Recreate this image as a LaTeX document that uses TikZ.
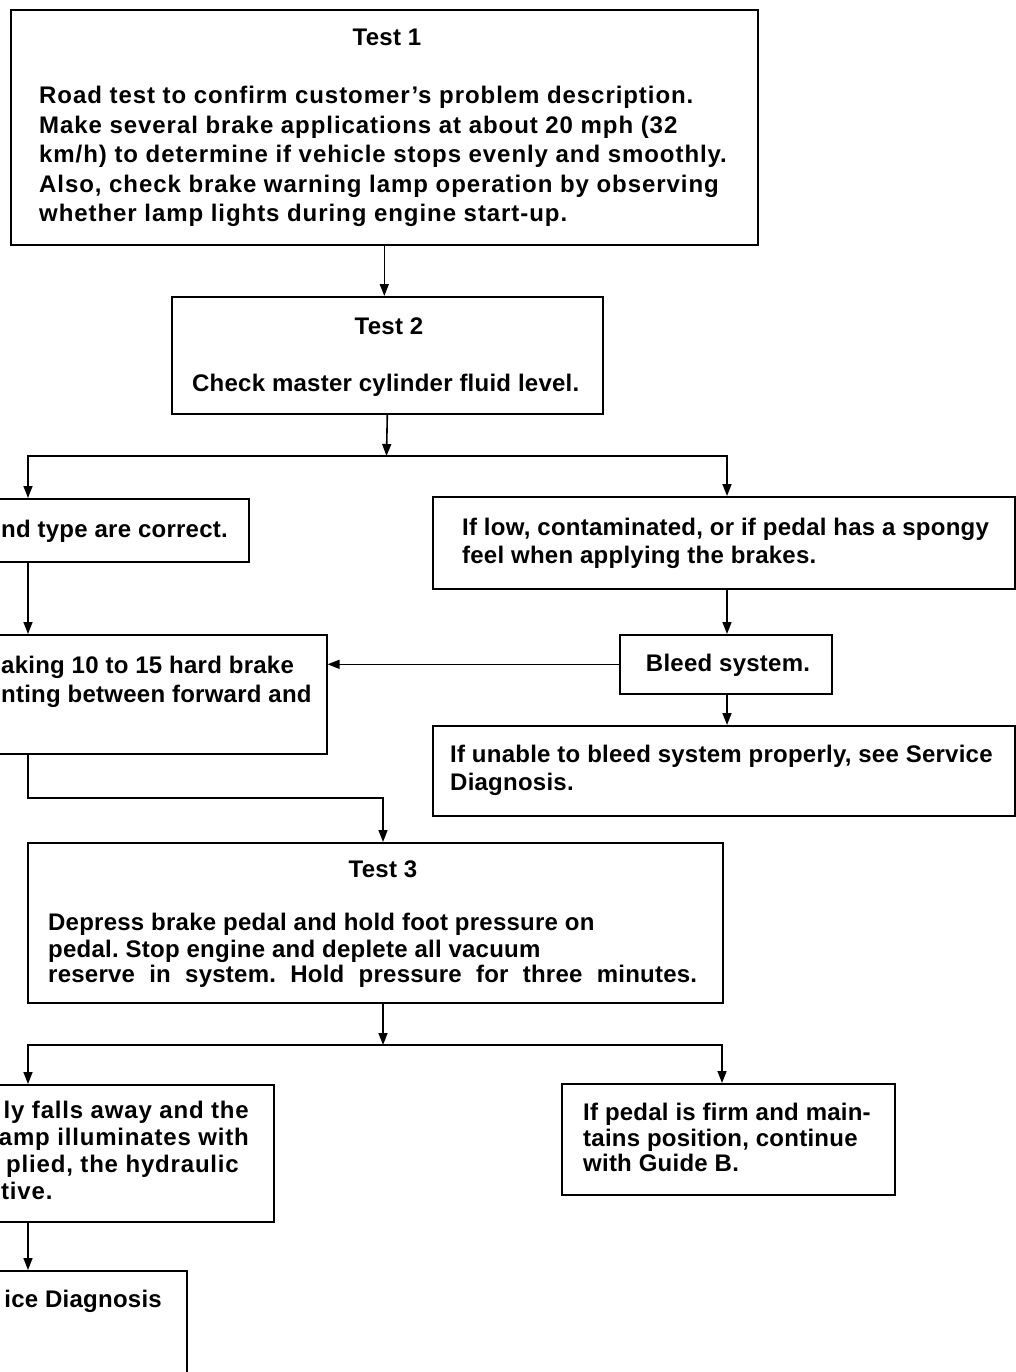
\documentclass[tikz,border=0pt]{standalone}
\usepackage{fontspec}
\setmainfont{Liberation Sans}
\usetikzlibrary{arrows.meta}
\begin{document}
\frenchspacing
\begin{tikzpicture}[x=1pt,y=-1pt,
  box/.style={draw, line width=1.6pt, rectangle, inner sep=0pt, anchor=north west},
  ln/.style={font=\fontsize{24}{29}\selectfont\bfseries\addfontfeatures{LetterSpace=1.0}, inner sep=0pt, anchor=base west},
  wide/.style={font=\fontsize{24}{29}\selectfont\bfseries\addfontfeatures{LetterSpace=3.4}},
  wider/.style={font=\fontsize{24}{29}\selectfont\bfseries\addfontfeatures{LetterSpace=3.9}},
  lnr/.style={ln, anchor=base east},
  lnc/.style={ln, anchor=base},
  link/.style={line width=1.6pt},
  arr/.style={link, -{Triangle[length=12pt,width=9pt]}}]
\useasboundingbox (0,0) rectangle (1016,1372);
\clip (0,0) rectangle (1016,1372);
\fill[white] (0,0) rectangle (1016,1372);

% boxes
\node[box, minimum width=747pt, minimum height=235pt] (t1) at (10,9) {};
\node[box, minimum width=431pt, minimum height=117pt] (t2) at (171,296) {};
\node[box, minimum width=548pt, minimum height=63pt] (ok) at (-300,498) {};
\node[box, minimum width=582pt, minimum height=92pt] (low) at (432,496) {};
\node[box, minimum width=626pt, minimum height=119pt] (hard) at (-300,634) {};
\node[box, minimum width=212pt, minimum height=59pt] (bleed) at (619,634) {};
\node[box, minimum width=582pt, minimum height=90pt] (unable) at (432,725) {};
\node[box, minimum width=695pt, minimum height=160pt] (t3) at (27,842) {};
\node[box, minimum width=573pt, minimum height=137pt] (falls) at (-300,1084) {};
\node[box, minimum width=333pt, minimum height=111pt] (firm) at (561,1083) {};
\node[box, minimum width=486pt, minimum height=150pt] (svc) at (-300,1270) {};

% Test 1
\node[lnc] (t1h) at (387,46) {Test 1};
\node[ln, wider] (t1a) at (39,104) {Road test to confirm customer’s problem description.};
\node[ln, wider] (t1b) at (39,133.5) {Make several brake applications at about 20 mph (32};
\node[ln, wider] (t1c) at (39,163) {km/h) to determine if vehicle stops evenly and smoothly.};
\node[ln, wider] (t1d) at (39,192.5) {Also, check brake warning lamp operation by observing};
\node[ln, wider] (t1e) at (39,222) {whether lamp lights during engine start-up.};

% Test 2
\node[lnc] (t2h) at (389,334) {Test 2};
\node[ln] (t2a) at (192,391) {Check master cylinder fluid level.};

% branches after Test 2
\node[ln] (oka) at (1,537) {nd type are correct.};
\node[ln] (lowa) at (462,535) {If low, contaminated, or if pedal has a spongy};
\node[ln] (lowb) at (462,563) {feel when applying the brakes.};
\node[ln] (harda) at (1,673) {aking 10 to 15 hard brake};
\node[ln] (hardb) at (1,702) {nting between forward and};
\node[lnc] (bleeda) at (728,671) {Bleed system.};
\node[ln] (unablea) at (450,762) {If unable to bleed system properly, see Service};
\node[ln] (unableb) at (450,790) {Diagnosis.};

% Test 3
\node[lnc] (t3h) at (383,877) {Test 3};
\node[ln] (t3a) at (48,930) {Depress brake pedal and hold foot pressure on};
\node[ln] (t3b) at (48,957) {pedal. Stop engine and deplete all vacuum};
\node[ln] (t3c) at (48,982) {\makebox[649pt][s]{reserve in system. Hold pressure for three minutes.}};

% branches after Test 3
\node[lnr, wide] (fallsa) at (249,1118) {ly falls away and the};
\node[lnr, wide] (fallsb) at (249,1145) {amp illuminates with};
\node[lnr, wide] (fallsc) at (239,1172) {plied, the hydraulic};
\node[ln, wide] (fallsd) at (1,1199) {tive.};
\node[ln] (firma) at (583,1120) {If pedal is firm and main-};
\node[ln] (firmb) at (583,1146) {tains position, continue};
\node[ln] (firmc) at (583,1171) {with Guide B.};
\node[lnr] (svca) at (162,1307) {ice Diagnosis};

% junction and column coordinates
\coordinate (j1) at (386.5,456);
\coordinate (cl) at (28,0);
\coordinate (cr) at (727,0);
\coordinate (bend) at (28,798);
\coordinate (c3) at (383,0);
\coordinate (j2) at (383,1045);
\coordinate (cr3) at (722,0);

% connectors
\draw[arr] (t1.south) -- (t1.south |- t2.north);
\draw[arr] (t2.south) -- (j1);
\draw[arr] (j1) -| (cl |- ok.north);
\draw[arr] (j1) -| (cr |- low.north);
\draw[arr] (cl |- ok.south) -- (cl |- hard.north);
\draw[arr] (cr |- low.south) -- (cr |- bleed.north);
\draw[arr] (bleed.west) -- (bleed.west -| hard.east);
\draw[arr] (cr |- bleed.south) -- (cr |- unable.north);
\draw[arr] (cl |- hard.south) -- (bend) -| (c3 |- t3.north);
\draw[arr] (c3 |- t3.south) -- (j2);
\draw[arr] (j2) -| (cl |- falls.north);
\draw[arr] (j2) -| (cr3 |- firm.north);
\draw[arr] (cl |- falls.south) -- (cl |- svc.north);
\end{tikzpicture}
\end{document}
